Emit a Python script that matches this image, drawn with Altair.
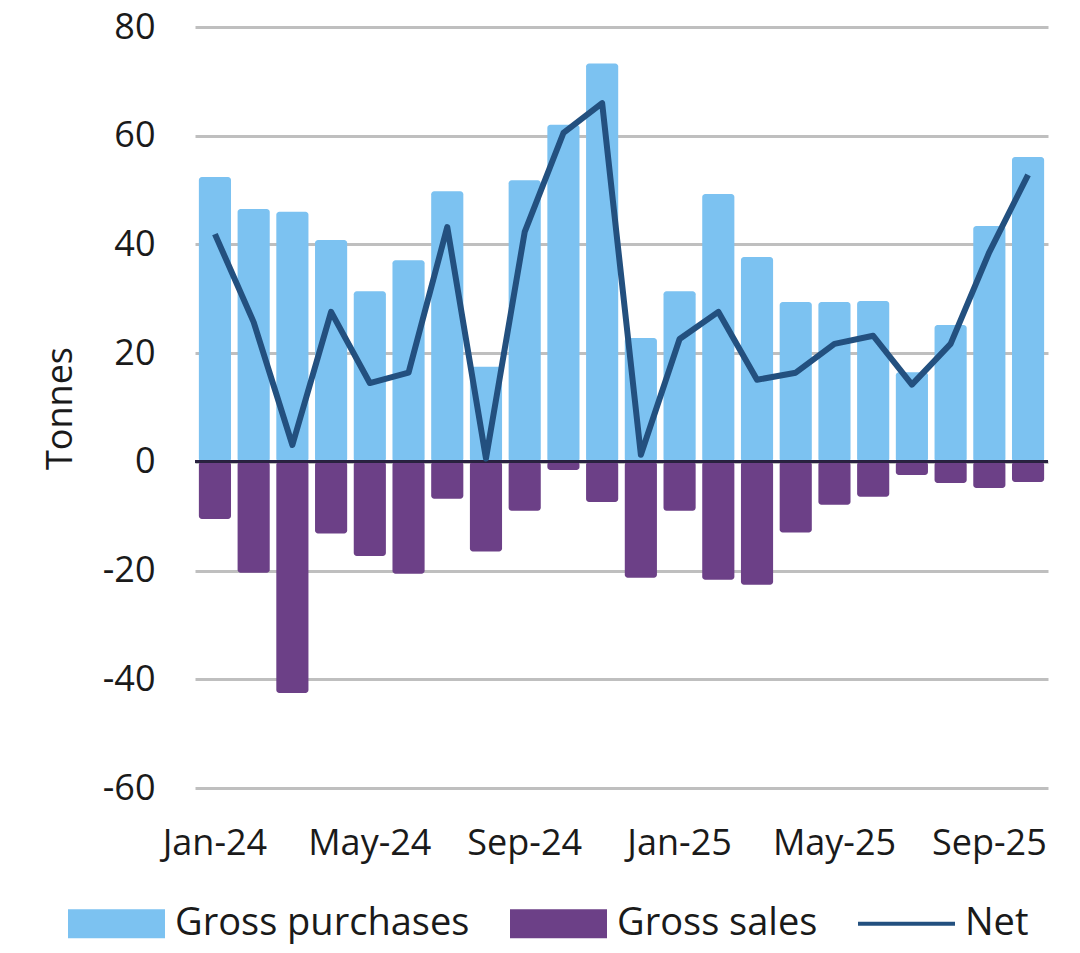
import altair as alt
import pandas as pd

months = [
    "Jan-24", "Feb-24", "Mar-24", "Apr-24", "May-24", "Jun-24",
    "Jul-24", "Aug-24", "Sep-24", "Oct-24", "Nov-24", "Dec-24",
    "Jan-25", "Feb-25", "Mar-25", "Apr-25", "May-25", "Jun-25",
    "Jul-25", "Aug-25", "Sep-25", "Oct-25",
]
gross_purchases = [
    52.4, 46.5, 46.0, 40.8, 31.4, 37.1, 49.8, 17.5, 51.8, 62.0, 73.3,
    22.8, 31.4, 49.3, 37.7, 29.4, 29.4, 29.6, 16.5, 25.2, 43.4, 56.1,
]
gross_sales = [
    -10.5, -20.4, -42.5, -13.2, -17.3, -20.6, -6.8, -16.5, -9.0, -1.5, -7.4,
    -21.3, -9.0, -21.7, -22.6, -13.0, -7.9, -6.4, -2.4, -3.9, -4.8, -3.7,
]
net = [
    41.9, 25.7, 3.1, 27.6, 14.5, 16.4, 43.2, 0.6, 42.3, 60.5, 66.0,
    1.3, 22.6, 27.6, 15.1, 16.4, 21.7, 23.2, 14.2, 21.7, 38.6, 52.8,
]
tick_months = ["Jan-24", "May-24", "Sep-24", "Jan-25", "May-25", "Sep-25"]
y_ticks = [-60, -40, -20, 0, 20, 40, 60, 80]

series_names = ["Gross purchases", "Gross sales", "Net"]
series_colors = ["#7cc2f1", "#6c4087", "#23507f"]

bars_df = pd.DataFrame(
    {
        "month": months * 2,
        "series": ["Gross purchases"] * len(months) + ["Gross sales"] * len(months),
        "value": gross_purchases + gross_sales,
    }
)
net_df = pd.DataFrame({"month": months, "value": net})

FONT = "Open Sans"
TEXT = "#1a1a1a"

x_enc = alt.X(
    "month:N",
    sort=months,
    title=None,
    scale=alt.Scale(paddingInner=0.17, paddingOuter=0.1),
    axis=alt.Axis(
        values=tick_months,
        labelAngle=0,
        labelPadding=38,
        domain=False,
        ticks=False,
        grid=False,
        labelFontSize=36,
        labelColor=TEXT,
        labelFont=FONT,
    ),
)
y_scale = alt.Scale(domain=[-60, 80], nice=False)
y_axis = alt.Axis(
    values=y_ticks,
    labelExpr="'' + datum.value",
    title="Tonnes",
    titleX=-135,
    titleY=381,
    titleAngle=-90,
    titleAlign="center",
    titleBaseline="middle",
    titleFontSize=36,
    titleFontWeight="normal",
    titleColor=TEXT,
    titleFont=FONT,
    labelFontSize=36,
    labelColor=TEXT,
    labelFont=FONT,
    labelPadding=40,
    domain=False,
    ticks=False,
    gridColor="#bfbfbf",
    gridWidth=3,
)

rect_path = "M-1,-0.3L1,-0.3L1,0.3L-1,0.3Z"
line_path = "M-1,-0.04L1,-0.04L1,0.04L-1,0.04Z"

bars = (
    alt.Chart(bars_df)
    .mark_bar(cornerRadius=3)
    .encode(
        x=x_enc,
        y=alt.Y("value:Q", stack=None, scale=y_scale, axis=y_axis),
        color=alt.Color(
            "series:N",
            scale=alt.Scale(domain=series_names, range=series_colors),
            legend=alt.Legend(
                title=None,
                orient="none",
                direction="horizontal",
                legendX=-127,
                legendY=848,
                symbolSize=9409,
                symbolType={
                    "expr": f"datum.value === 'Net' ? '{line_path}' : '{rect_path}'"
                },
                symbolStrokeWidth=0,
                symbolOpacity=1,
                labelFontSize=38,
                labelFont=FONT,
                labelColor=TEXT,
                labelOffset=10,
                labelLimit=0,
                columnPadding=40,
            ),
        ),
    )
)

zero = (
    alt.Chart(net_df)
    .mark_rule(color="#2a2340", strokeWidth=2)
    .encode(y=alt.datum(0))
)

net_line = (
    alt.Chart(net_df)
    .mark_line(strokeWidth=6, strokeJoin="round", color=series_colors[2])
    .encode(x=alt.X("month:N", sort=months), y=alt.Y("value:Q"))
)

chart = (
    alt.layer(bars, zero, net_line)
    .properties(
        width=853,
        height=761,
        autosize=alt.AutoSizeParams(type="none"),
        padding={"left": 187, "top": 19, "right": 24, "bottom": 157},
    )
    .configure_view(stroke=None)
)

chart.save("out.html", embed_options={"renderer": "svg", "actions": False})
